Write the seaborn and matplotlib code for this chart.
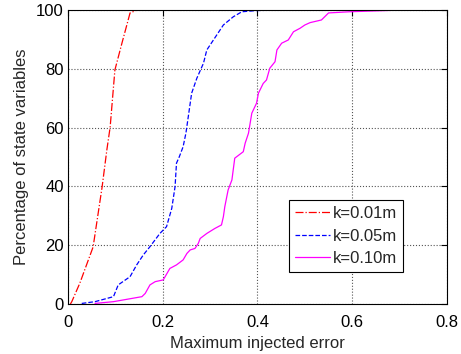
import matplotlib
matplotlib.use("Agg")
import matplotlib.pyplot as plt
import seaborn as sns
import pandas as pd

sns.set_theme(style="white")
plt.rcParams['font.family'] = ['Liberation Sans', 'DejaVu Sans']

labels = ["k=0.01m", "k=0.05m", "k=0.10m"]
colors = ["#ff0000", "#0000ff", "#ff00ff"]
styles = ["-.", "--", "-"]

x_k001 = [0.005, 0.008, 0.025, 0.053, 0.072, 0.082, 0.089, 0.099, 0.114, 0.131, 0.146]
y_k001 = [0.0, 0.8, 7.1, 19.4, 39.8, 52.4, 60.2, 79.6, 88.8, 99.0, 100.0]

x_k005 = [0.029, 0.057, 0.096, 0.106, 0.131, 0.145, 0.159, 0.173, 0.194, 0.208, 0.219,
          0.226, 0.229, 0.235, 0.243, 0.249, 0.261, 0.272, 0.286, 0.293, 0.307, 0.328,
          0.349, 0.367, 0.398, 0.45]
y_k005 = [0.2, 0.8, 2.5, 6.5, 9.3, 13.3, 16.7, 19.5, 24.0, 26.3, 32.5,
          39.9, 47.9, 50.1, 53.5, 58.2, 71.7, 76.8, 81.9, 86.4, 89.8, 94.9,
          97.7, 99.4, 99.8, 100.0]

x_k010 = [0.057, 0.096, 0.156, 0.163, 0.173, 0.184, 0.201, 0.205, 0.215, 0.229, 0.243,
          0.251, 0.258, 0.268, 0.275, 0.279, 0.293, 0.310, 0.324, 0.328, 0.331, 0.338,
          0.346, 0.352, 0.370, 0.374, 0.381, 0.388, 0.398, 0.402, 0.412, 0.419, 0.426,
          0.437, 0.441, 0.451, 0.465, 0.476, 0.490, 0.500, 0.511, 0.535, 0.550, 0.595, 0.708]
y_k010 = [0.2, 0.8, 2.5, 3.6, 6.5, 7.6, 8.2, 9.3, 12.1, 13.3, 15.0,
          17.2, 18.4, 18.9, 20.6, 22.3, 24.0, 25.7, 26.9, 29.7, 33.1, 38.8,
          42.2, 49.6, 51.8, 54.7, 58.1, 64.9, 68.3, 71.7, 75.0, 76.2, 80.2,
          82.4, 86.4, 88.7, 89.8, 92.6, 93.8, 94.9, 95.7, 96.6, 99.0, 99.4, 100.0]

xs = [x_k001, x_k005, x_k010]
ys = [y_k001, y_k005, y_k010]

fig = plt.figure(figsize=(4.61, 3.54), dpi=100)
ax = fig.add_axes([0.1475, 0.1412, 0.8221, 0.8306])

for lab, c, ls, x, y in zip(labels, colors, styles, xs, ys):
    df = pd.DataFrame({"x": x, "y": y})
    sns.lineplot(data=df, x="x", y="y", ax=ax, color=c, linestyle=ls,
                 linewidth=0.9, label=lab, sort=False, estimator=None)

ax.set_xlim(0, 0.8)
ax.set_ylim(0, 100)
ax.set_xticks([0, 0.2, 0.4, 0.6, 0.8])
ax.set_xticklabels(["0", "0.2", "0.4", "0.6", "0.8"])
ax.set_yticks([0, 20, 40, 60, 80, 100])
ax.set_xlabel("Maximum injected error", fontsize=12, labelpad=4)
ax.set_ylabel("Percentage of state variables", fontsize=12, labelpad=5)
ax.tick_params(direction="in", length=4, width=0.8, top=True, right=True,
               labelsize=12, colors="black", pad=3)
ax.tick_params(axis="x", pad=8)
for s in ax.spines.values():
    s.set_color("black")
    s.set_linewidth(0.8)
ax.grid(True, linestyle=":", color="#555555", linewidth=0.8)

leg = ax.legend(loc="lower left", bbox_to_anchor=(0.627, 0.2316),
                bbox_transform=fig.transFigure, fontsize=12, frameon=True,
                fancybox=False, framealpha=1, edgecolor="black",
                handlelength=2.1, handletextpad=0.2, labelspacing=0.45,
                borderpad=0.35, borderaxespad=0)
leg.get_frame().set_linewidth(0.8)

fig.savefig("out.png", dpi=100)
